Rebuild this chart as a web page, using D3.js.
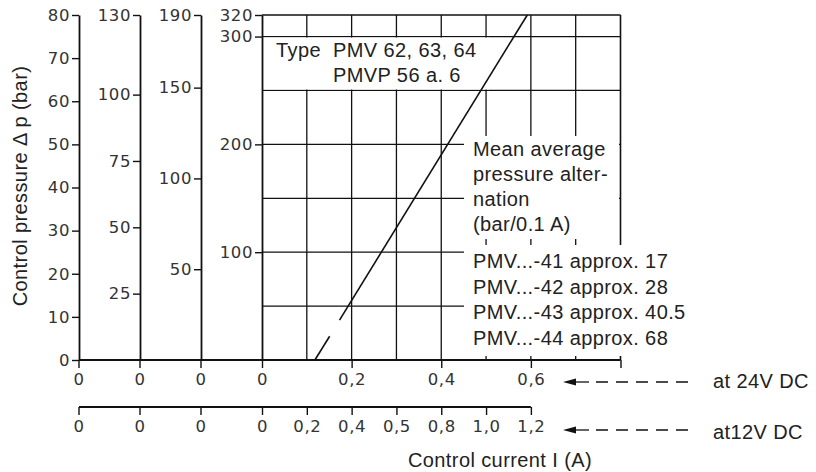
<!DOCTYPE html>
<html><head><meta charset="utf-8">
<script src="https://cdn.jsdelivr.net/npm/d3@7"></script>
<style>
html,body{margin:0;padding:0;background:#fff;}
svg text{fill:#222;}
.tick text,.slot{font-family:"DejaVu Sans",sans-serif;font-size:16.5px;letter-spacing:0.6px;fill:#333;}
.lbl{font-family:"Liberation Sans",Arial,sans-serif;font-size:20px;letter-spacing:0.4px;}
</style></head>
<body>
<svg id="c" width="816" height="472"></svg>
<script>
// ---- data ----
const pressureAxes = [
  {max: 80,  ticks: [0,10,20,30,40,50,60,70,80]},
  {max: 130, ticks: [25,50,75,100,130]},
  {max: 190, ticks: [50,100,150,190]},
  {max: 320, ticks: [100,200,300,320]}
];
const pressureGrid = [50,100,150,200,250,300,320];
const currentGrid24 = [0.1,0.2,0.3,0.4,0.5,0.6,0.7];
const currentTicks24 = [0,0.2,0.4,0.6,0.8];
const currentLabels24 = ["0","0,2","0,4","0,6",""];
const currentTicks12 = [0.2,0.4,0.6,0.8,1.0,1.2];
const currentLabels12 = ["0,2","0,4","0,5","0,8","1,0","1,2"];
// characteristic line (current at 24V in A, pressure in bar), two pieces with a gap
const lineSeg1 = [[0.118,0],[0.151,22]];
const lineSeg2 = [[0.173,37],[0.592,320]];
const typeText = ["Type", "PMV 62, 63, 64", "PMVP 56 a. 6"];
const meanText = ["Mean average","pressure alter-","nation","(bar/0.1 A)"];
const variantText = ["PMV...-41 approx. 17","PMV...-42 approx. 28","PMV...-43 approx. 40.5","PMV...-44 approx. 68"];

// ---- layout ----
const svg = d3.select("#c");
const yTop = 15, yBase = 360;
const axisX = d3.scalePoint().domain(d3.range(pressureAxes.length)).range([79,262]);
const x24 = d3.scaleLinear().domain([0,0.8]).range([262,620.5]);
const x12 = d3.scaleLinear().domain([0,1.2]).range([262, x24(0.6)]);
const y320 = d3.scaleLinear().domain([0,320]).range([yBase,yTop]);
const ink = "#111";

// grid
const grid = svg.append("g").attr("stroke",ink).attr("stroke-width",1.3);
grid.selectAll("line.h").data(pressureGrid).join("line")
  .attr("x1",262).attr("x2",x24(0.8)).attr("y1",d=>y320(d)).attr("y2",d=>y320(d));
grid.selectAll("line.v").data(currentGrid24).join("line")
  .attr("x1",d=>x24(d)).attr("x2",d=>x24(d)).attr("y1",yTop).attr("y2",yBase);
grid.append("line").attr("x1",x24(0.8)).attr("x2",x24(0.8)).attr("y1",yTop).attr("y2",yBase).attr("stroke-width",1.6);

// white label boxes
const boxes = [
  {x0:263, x1:489, y0:y320(300)+1, y1:y320(250)-1},
  {x0:464, x1:619, y0:136, y1:239},
  {x0:464, x1:722, y0:245, y1:356}
];
svg.append("g").selectAll("rect").data(boxes).join("rect")
  .attr("x",d=>d.x0).attr("y",d=>d.y0).attr("width",d=>d.x1-d.x0).attr("height",d=>d.y1-d.y0)
  .attr("fill","#fff");

// pressure axes
pressureAxes.forEach((a,i)=>{
  const s = d3.scaleLinear().domain([0,a.max]).range([yBase,yTop]);
  const g = svg.append("g").attr("transform",`translate(${axisX(i)},0)`)
    .call(d3.axisLeft(s).tickValues(a.ticks).tickSize(7).tickSizeOuter(0).tickPadding(2));
  g.select(".domain").attr("stroke",ink).attr("stroke-width",1.8);
  g.selectAll(".tick line").attr("stroke",ink).attr("stroke-width",1.4);
});

// bottom 24V axis
const b24 = svg.append("g").attr("transform",`translate(0,${yBase})`);
b24.append("line").attr("x1",axisX(0)).attr("x2",x24(0.8)).attr("stroke",ink).attr("stroke-width",2);
const ax24 = b24.append("g").call(d3.axisBottom(x24).tickValues(currentTicks24)
  .tickFormat((d,i)=>currentLabels24[i]).tickSize(8).tickSizeOuter(0).tickPadding(5));
ax24.select(".domain").remove();
const slotTicks = d3.range(pressureAxes.length - 1);
const sl = b24.append("g");
sl.selectAll("line").data(slotTicks).join("line").attr("x1",d=>axisX(d)).attr("x2",d=>axisX(d)).attr("y1",0).attr("y2",8);
sl.selectAll("text").data(slotTicks).join("text").attr("class","slot")
  .attr("x",d=>axisX(d)).attr("y",13).attr("dy","0.71em").attr("text-anchor","middle").text("0");
sl.selectAll("line").attr("stroke",ink).attr("stroke-width",1.4);
b24.selectAll(".tick line").attr("stroke",ink).attr("stroke-width",1.4);

// bottom 12V axis
const y12 = 407;
const b12 = svg.append("g").attr("transform",`translate(0,${y12})`);
b12.append("line").attr("x1",axisX(0)).attr("x2",x12(1.2)).attr("stroke",ink).attr("stroke-width",2);
const ax12 = b12.append("g").call(d3.axisBottom(x12).tickValues([0].concat(currentTicks12))
  .tickFormat((d,i)=> i===0 ? "0" : currentLabels12[i-1]).tickSize(8).tickSizeOuter(0).tickPadding(5));
ax12.select(".domain").remove();
const sl12 = b12.append("g");
sl12.selectAll("line").data(slotTicks).join("line").attr("x1",d=>axisX(d)).attr("x2",d=>axisX(d)).attr("y1",0).attr("y2",8);
sl12.selectAll("text").data(slotTicks).join("text").attr("class","slot")
  .attr("x",d=>axisX(d)).attr("y",13).attr("dy","0.71em").attr("text-anchor","middle").text("0");
sl12.selectAll("line").attr("stroke",ink).attr("stroke-width",1.4);
b12.selectAll(".tick line").attr("stroke",ink).attr("stroke-width",1.4);

// characteristic line
const lineGen = d3.line().x(d=>x24(d[0])).y(d=>y320(d[1]));
[lineSeg1,lineSeg2].forEach(seg=>{
  svg.append("path").attr("d",lineGen(seg)).attr("fill","none").attr("stroke",ink).attr("stroke-width",1.6);
});

// arrows to axis labels
function arrow(y, label, ty){
  const g = svg.append("g");
  g.append("path").attr("d",`M563,${y} L576,${y-3.5} L576,${y+3.5} Z`).attr("fill",ink);
  g.append("line").attr("x1",575).attr("x2",589).attr("y1",y).attr("y2",y).attr("stroke",ink).attr("stroke-width",1.3);
  g.append("line").attr("x1",596).attr("x2",693).attr("y1",y).attr("y2",y).attr("stroke",ink)
    .attr("stroke-width",1.3).attr("stroke-dasharray","12,8");
  g.append("text").attr("class","lbl").attr("x",713).attr("y",ty).text(label);
}
arrow(382, "at 24V DC", 388);
arrow(430, "at12V DC", 439);

// text blocks
const tt = svg.append("text").attr("class","lbl");
tt.append("tspan").attr("x",276).attr("y",57).text(typeText[0]);
tt.append("tspan").attr("x",333).attr("y",57).text(typeText[1]);
tt.append("tspan").attr("x",333).attr("y",82).text(typeText[2]);
svg.append("g").selectAll("text").data(meanText).join("text").attr("class","lbl")
  .attr("x",473).attr("y",(d,i)=>156+i*25).text(d=>d);
svg.append("g").selectAll("text").data(variantText).join("text").attr("class","lbl")
  .attr("x",473).attr("y",(d,i)=>268+i*25.7).text(d=>d);

// axis titles
svg.append("text").attr("class","lbl").attr("text-anchor","middle")
  .attr("transform","translate(27,186) rotate(-90)").text("Control pressure \u0394 p (bar)");
svg.append("text").attr("class","lbl").attr("text-anchor","middle")
  .attr("x",500).attr("y",467).text("Control current I (A)");
</script>
</body></html>
